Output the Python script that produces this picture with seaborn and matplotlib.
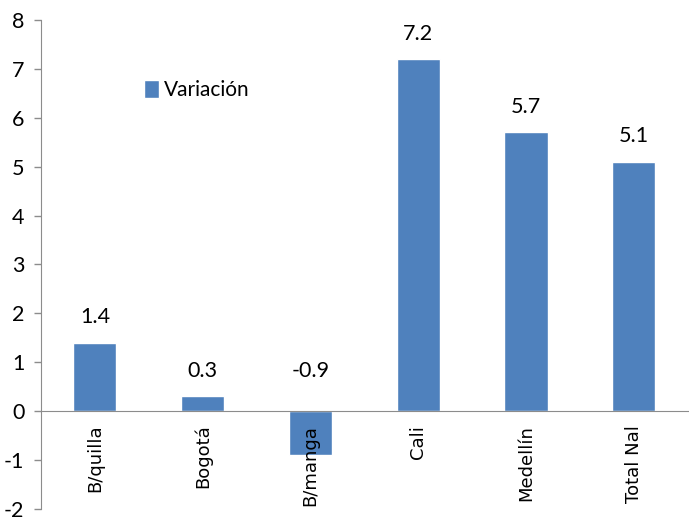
import matplotlib
matplotlib.use("Agg")
from matplotlib import pyplot as plt
import pandas as pd
import seaborn as sns

# data
ciudades = ["B/quilla", "Bogotá", "B/manga", "Cali", "Medellín", "Total Nal"]
variacion = [1.4, 0.3, -0.9, 7.2, 5.7, 5.1]
yticks = list(range(-2, 9))

df = pd.DataFrame({"ciudad": ciudades, "variacion": variacion})

sns.set_style("white")
plt.rcParams["font.family"] = ["Lato", "DejaVu Sans"]
plt.rcParams["text.color"] = "black"
plt.rcParams["ytick.color"] = "black"

fig = plt.figure(figsize=(6.89, 5.21), dpi=100)
ax = fig.add_axes([0.0595, 0.0235, 0.9385, 0.938])

sns.barplot(data=df, x="ciudad", y="variacion", color="#4F81BD", width=0.4,
            saturation=1, label="Variación", ax=ax)

ax.set_ylim(-2, 8)
ax.set_xlim(-0.5, len(ciudades) - 0.5)
ax.set_yticks(yticks)
ax.set_yticklabels([str(t) for t in yticks], fontsize=15.5)
ax.set_xlabel("")
ax.set_ylabel("")

# x axis drawn at zero with ticks between categories
ax.spines["bottom"].set_position(("data", 0))
ax.spines["bottom"].set_color("#8c8c8c")
ax.spines["left"].set_color("#8c8c8c")
ax.spines["top"].set_visible(False)
ax.spines["right"].set_visible(False)
ax.set_xticks([i + 0.5 for i in range(len(ciudades) - 1)])
ax.set_xticklabels([])
ax.tick_params(axis="x", direction="out", length=6, color="#8c8c8c", width=1)
ax.tick_params(axis="y", direction="out", length=5, color="#8c8c8c", width=1,
               labelcolor="black", left=True, pad=7)

# category names rotated, hanging below the zero line
for i, c in enumerate(ciudades):
    ax.text(i, -0.28, c, rotation=90, ha="center", va="top", fontsize=13,
            family="DejaVu Sans")

# value labels
for i, v in enumerate(variacion):
    ax.text(i, max(v, 0.3) + 0.32, f"{v:.1f}", ha="center", va="bottom",
            fontsize=15.5)

leg = ax.legend(loc="upper left", bbox_to_anchor=(0.13, 0.915), frameon=False,
                fontsize=15, handlelength=0.75, handleheight=0.95,
                handletextpad=0.2)

fig.savefig("out.png", dpi=100)
